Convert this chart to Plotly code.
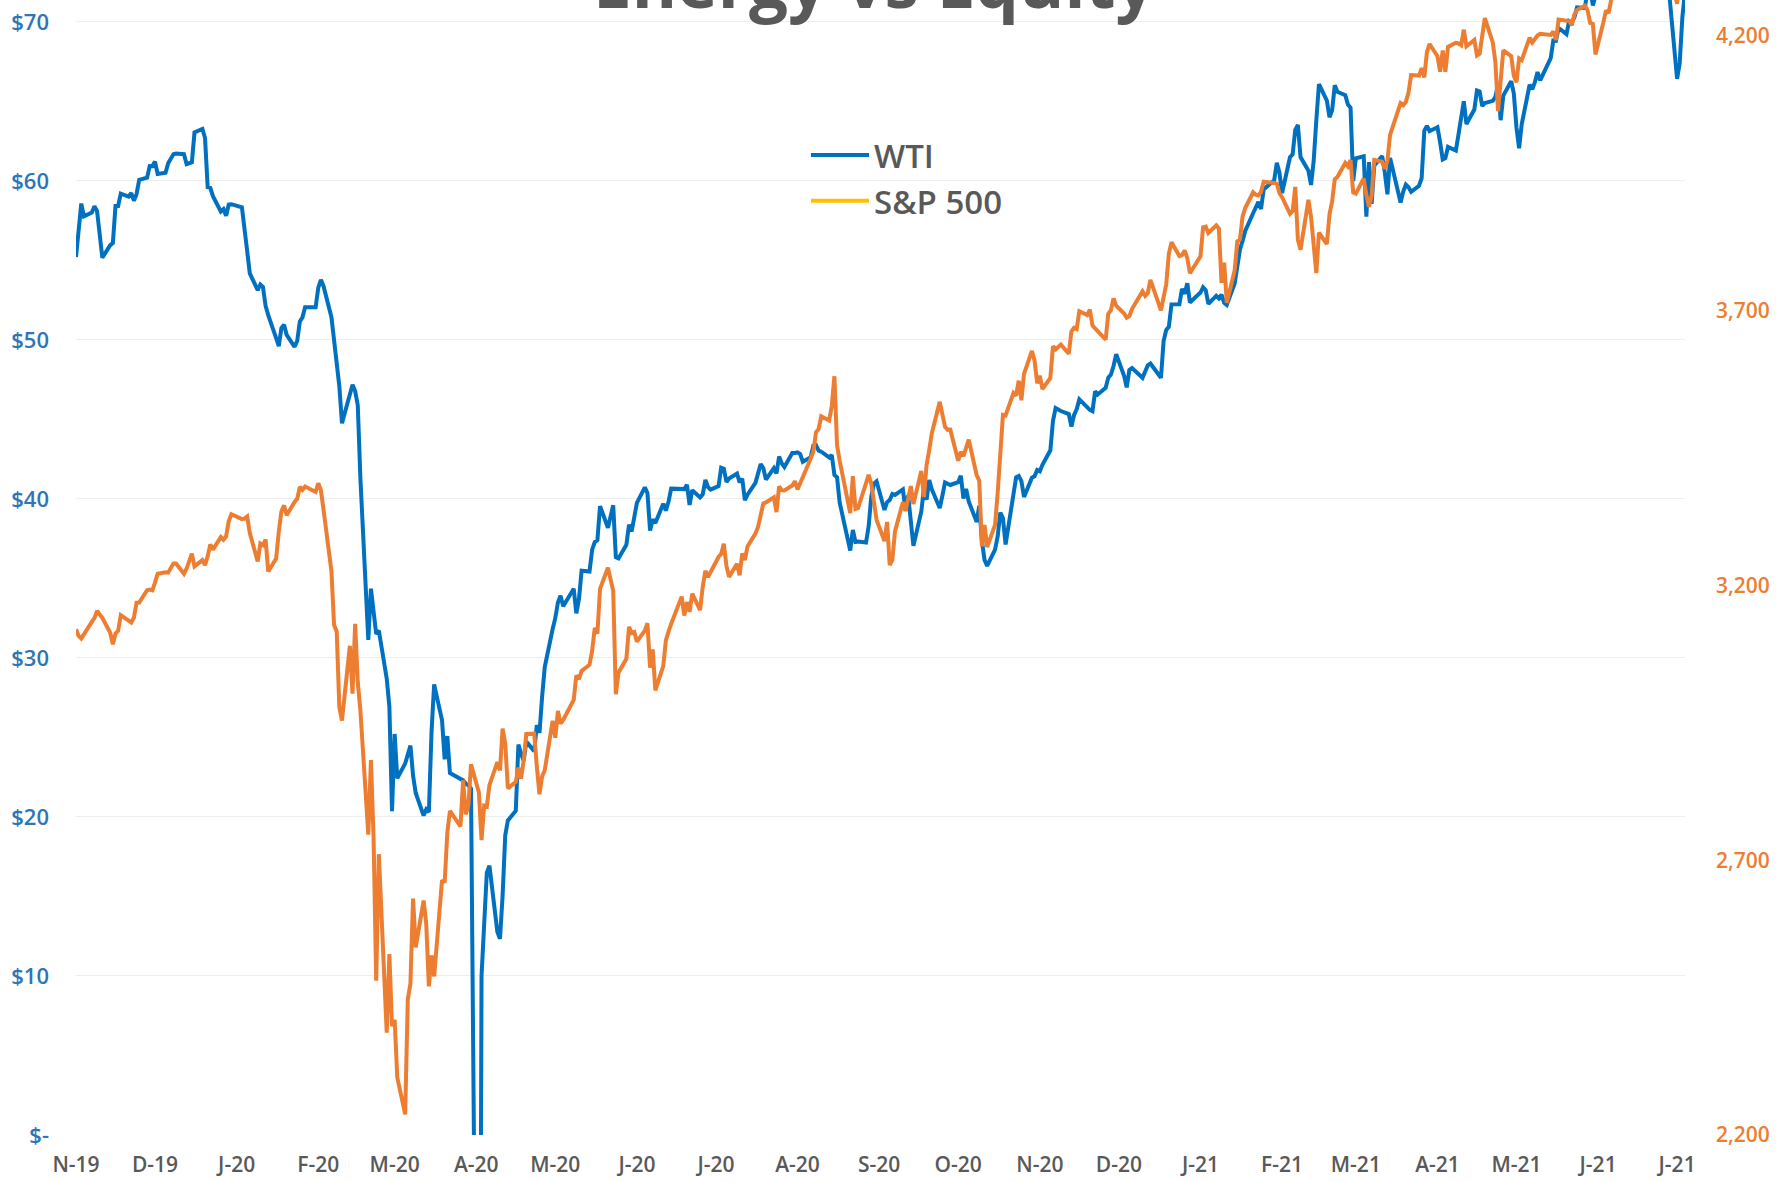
import plotly.graph_objects as go

# ---------------- data ----------------
dates = [
    # Nov 2019
    "2019-11-19","2019-11-20","2019-11-21","2019-11-22","2019-11-25","2019-11-26","2019-11-27","2019-11-29",
    # Dec 2019
    "2019-12-02","2019-12-03","2019-12-04","2019-12-05","2019-12-06","2019-12-09","2019-12-10","2019-12-11",
    "2019-12-12","2019-12-13","2019-12-16","2019-12-17","2019-12-18","2019-12-19","2019-12-20","2019-12-23",
    "2019-12-24","2019-12-26","2019-12-27","2019-12-30","2019-12-31",
    # Jan 2020
    "2020-01-02","2020-01-03","2020-01-06","2020-01-07","2020-01-08","2020-01-09","2020-01-10","2020-01-13",
    "2020-01-14","2020-01-15","2020-01-16","2020-01-17","2020-01-21","2020-01-22","2020-01-23","2020-01-24",
    "2020-01-27","2020-01-28","2020-01-29","2020-01-30","2020-01-31",
    # Feb 2020
    "2020-02-03","2020-02-04","2020-02-05","2020-02-06","2020-02-07","2020-02-10","2020-02-11","2020-02-12",
    "2020-02-13","2020-02-14","2020-02-18","2020-02-19","2020-02-20","2020-02-21","2020-02-24","2020-02-25",
    "2020-02-26","2020-02-27","2020-02-28",
    # Mar 2020
    "2020-03-02","2020-03-03","2020-03-04","2020-03-05","2020-03-06","2020-03-09","2020-03-10","2020-03-11",
    "2020-03-12","2020-03-13","2020-03-16","2020-03-17","2020-03-18","2020-03-19","2020-03-20","2020-03-23",
    "2020-03-24","2020-03-25","2020-03-26","2020-03-27","2020-03-30","2020-03-31",
    # Apr 2020
    "2020-04-01","2020-04-02","2020-04-03","2020-04-06","2020-04-07","2020-04-08","2020-04-09","2020-04-13",
    "2020-04-14","2020-04-15","2020-04-16","2020-04-17","2020-04-20","2020-04-21","2020-04-22","2020-04-23",
    "2020-04-24","2020-04-27","2020-04-28","2020-04-29","2020-04-30",
    # May 2020
    "2020-05-01","2020-05-04","2020-05-05","2020-05-06","2020-05-07","2020-05-08","2020-05-11","2020-05-12",
    "2020-05-13","2020-05-14","2020-05-15","2020-05-18","2020-05-19","2020-05-20","2020-05-21","2020-05-22",
    "2020-05-26","2020-05-27","2020-05-28","2020-05-29",
    # Jun 2020
    "2020-06-01","2020-06-02","2020-06-03","2020-06-04","2020-06-05","2020-06-08","2020-06-09","2020-06-10",
    "2020-06-11","2020-06-12","2020-06-15","2020-06-16","2020-06-17","2020-06-18","2020-06-19","2020-06-22",
    "2020-06-23","2020-06-24","2020-06-25","2020-06-26","2020-06-29","2020-06-30",
    # Jul 2020
    "2020-07-01","2020-07-02","2020-07-06","2020-07-07","2020-07-08","2020-07-09","2020-07-10","2020-07-13",
    "2020-07-14","2020-07-15","2020-07-16","2020-07-17","2020-07-20","2020-07-21","2020-07-22","2020-07-23",
    "2020-07-24","2020-07-27","2020-07-28","2020-07-29","2020-07-30","2020-07-31",
    # Aug 2020
    "2020-08-03","2020-08-04","2020-08-05","2020-08-06","2020-08-07","2020-08-10","2020-08-11","2020-08-12",
    "2020-08-13","2020-08-14","2020-08-17","2020-08-18","2020-08-19","2020-08-20","2020-08-21","2020-08-24",
    "2020-08-25","2020-08-26","2020-08-27","2020-08-28","2020-08-31",
    # Sep 2020
    "2020-09-01","2020-09-02","2020-09-03","2020-09-04","2020-09-08","2020-09-09","2020-09-10","2020-09-11",
    "2020-09-14","2020-09-15","2020-09-16","2020-09-17","2020-09-18","2020-09-21","2020-09-22","2020-09-23",
    "2020-09-24","2020-09-25","2020-09-28","2020-09-29","2020-09-30",
    # Oct 2020
    "2020-10-01","2020-10-02","2020-10-05","2020-10-06","2020-10-07","2020-10-08","2020-10-09","2020-10-12",
    "2020-10-13","2020-10-14","2020-10-15","2020-10-16","2020-10-19","2020-10-20","2020-10-21","2020-10-22",
    "2020-10-23","2020-10-26","2020-10-27","2020-10-28","2020-10-29","2020-10-30",
    # Nov 2020
    "2020-11-02","2020-11-03","2020-11-04","2020-11-05","2020-11-06","2020-11-09","2020-11-10","2020-11-11",
    "2020-11-12","2020-11-13","2020-11-16","2020-11-17","2020-11-18","2020-11-19","2020-11-20","2020-11-23",
    "2020-11-24","2020-11-25","2020-11-27","2020-11-30",
    # Dec 2020
    "2020-12-01","2020-12-02","2020-12-03","2020-12-04","2020-12-07","2020-12-08","2020-12-09","2020-12-10",
    "2020-12-11","2020-12-14","2020-12-15","2020-12-16","2020-12-17","2020-12-18","2020-12-21","2020-12-22",
    "2020-12-23","2020-12-24","2020-12-28","2020-12-29","2020-12-30","2020-12-31",
    # Jan 2021
    "2021-01-04","2021-01-05","2021-01-06","2021-01-07","2021-01-08","2021-01-11","2021-01-12","2021-01-13",
    "2021-01-14","2021-01-15","2021-01-19","2021-01-20","2021-01-21","2021-01-22","2021-01-25","2021-01-26",
    "2021-01-27","2021-01-28","2021-01-29",
    # Feb 2021
    "2021-02-01","2021-02-02","2021-02-03","2021-02-04","2021-02-05","2021-02-08","2021-02-09","2021-02-10",
    "2021-02-11","2021-02-12","2021-02-16","2021-02-17","2021-02-18","2021-02-19","2021-02-22","2021-02-23",
    "2021-02-24","2021-02-25","2021-02-26",
    # Mar 2021
    "2021-03-01","2021-03-02","2021-03-03","2021-03-04","2021-03-05","2021-03-08","2021-03-09","2021-03-10",
    "2021-03-11","2021-03-12","2021-03-15","2021-03-16","2021-03-17","2021-03-18","2021-03-19","2021-03-22",
    "2021-03-23","2021-03-24","2021-03-25","2021-03-26","2021-03-29","2021-03-30","2021-03-31",
    # Apr 2021
    "2021-04-01","2021-04-05","2021-04-06","2021-04-07","2021-04-08","2021-04-09","2021-04-12","2021-04-13",
    "2021-04-14","2021-04-15","2021-04-16","2021-04-19","2021-04-20","2021-04-21","2021-04-22","2021-04-23",
    "2021-04-26","2021-04-27","2021-04-28","2021-04-29","2021-04-30",
    # May 2021
    "2021-05-03","2021-05-04","2021-05-05","2021-05-06","2021-05-07","2021-05-10","2021-05-11","2021-05-12",
    "2021-05-13","2021-05-14","2021-05-17","2021-05-18","2021-05-19","2021-05-20","2021-05-21","2021-05-24",
    "2021-05-25","2021-05-26","2021-05-27","2021-05-28",
    # Jun 2021
    "2021-06-01","2021-06-02","2021-06-03","2021-06-04","2021-06-07","2021-06-08","2021-06-09","2021-06-10",
    "2021-06-11","2021-06-14","2021-06-15","2021-06-16","2021-06-17","2021-06-18","2021-06-21","2021-06-22",
    "2021-06-23","2021-06-24","2021-06-25","2021-06-28","2021-06-29","2021-06-30",
    # Jul 2021
    "2021-07-01","2021-07-02","2021-07-06","2021-07-07","2021-07-08","2021-07-09","2021-07-12","2021-07-13",
    "2021-07-14","2021-07-15","2021-07-16","2021-07-19","2021-07-20","2021-07-21","2021-07-22",
]

wti = [
    # Nov 2019
    55.21,57.11,58.58,57.77,58.01,58.41,58.11,55.17,
    # Dec 2019
    55.96,56.10,58.43,58.43,59.20,59.02,59.24,58.76,59.18,60.07,60.21,60.94,60.93,61.22,60.44,60.52,
    61.11,61.68,61.72,61.68,61.06,
    # Jan 2020
    61.18,63.05,63.27,62.70,59.61,59.56,59.04,58.08,58.23,57.81,58.52,58.54,58.34,56.74,55.59,54.19,
    53.14,53.48,53.33,52.14,51.56,
    # Feb 2020
    50.11,49.61,50.75,50.95,50.32,49.57,49.94,51.17,51.42,52.05,52.05,53.29,53.78,53.38,51.43,49.90,
    48.73,47.09,44.76,
    # Mar 2020
    46.75,47.18,46.78,45.90,41.28,31.13,34.36,32.98,31.50,31.73,28.70,26.95,20.37,25.22,22.43,23.36,
    24.01,24.49,22.60,21.51,20.09,20.48,
    # Apr 2020
    20.31,25.32,28.34,26.08,23.63,25.09,22.76,22.40,22.30,22.10,22.00,21.80,-37.63,10.01,13.78,16.50,
    16.94,12.78,12.34,15.06,18.84,
    # May 2020
    19.78,20.39,24.56,23.99,23.55,24.74,24.14,25.78,25.29,27.56,29.43,31.82,32.50,33.49,33.92,33.25,
    34.35,32.81,33.71,35.49,
    # Jun 2020
    35.44,36.81,37.29,37.41,39.55,38.19,38.94,39.60,36.34,36.26,37.12,38.38,37.96,38.84,39.75,40.73,
    40.37,38.01,38.72,38.49,39.70,39.27,
    # Jul 2020
    39.82,40.65,40.63,40.62,40.90,39.62,40.55,40.10,40.29,41.20,40.75,40.59,40.81,41.96,41.90,41.07,
    41.29,41.60,41.04,41.27,39.92,40.27,
    # Aug 2020
    41.01,41.70,42.19,41.95,41.22,41.94,41.61,42.67,42.24,42.01,42.89,42.89,42.93,42.82,42.34,42.62,
    43.35,43.39,43.04,42.97,42.61,
    # Sep 2020
    42.76,41.51,41.37,39.77,36.76,38.05,37.30,37.33,37.26,38.28,40.16,40.97,41.11,39.31,39.80,39.93,
    40.31,40.25,40.60,39.29,40.22,
    # Oct 2020
    38.72,37.05,39.22,40.67,39.95,41.19,40.60,39.43,40.20,41.04,40.96,40.88,41.06,41.46,40.03,40.64,
    39.85,38.56,39.57,37.39,36.17,35.79,
    # Nov 2020
    36.81,37.66,39.15,38.79,37.14,40.29,41.36,41.45,41.12,40.13,41.34,41.43,41.82,41.74,42.15,43.06,
    44.91,45.71,45.53,45.34,
    # Dec 2020
    44.55,45.28,45.64,46.26,45.76,45.60,45.52,46.78,46.57,46.99,47.62,47.82,48.36,49.10,47.74,47.02,
    48.12,48.23,47.62,48.00,48.40,48.52,
    # Jan 2021
    47.62,49.93,50.63,50.83,52.24,52.25,53.21,52.91,53.57,52.36,52.98,53.31,53.13,52.27,52.77,52.61,
    52.85,52.34,52.20,
    # Feb 2021
    53.55,54.76,55.69,56.23,56.85,57.97,58.36,58.68,58.24,59.47,60.05,61.14,60.52,59.24,61.49,61.67,
    63.22,63.53,61.50,
    # Mar 2021
    60.64,59.75,61.28,63.83,66.09,65.05,64.01,64.44,66.02,65.61,65.39,64.80,64.60,60.00,61.42,61.55,
    57.76,61.18,58.56,60.97,61.56,60.55,59.16,
    # Apr 2021
    61.45,58.65,59.33,59.77,59.60,59.32,59.70,60.18,63.15,63.46,63.13,63.38,62.44,61.35,61.43,62.14,
    61.91,62.94,63.86,65.01,63.58,
    # May 2021
    64.49,65.69,65.63,64.71,64.90,65.04,65.28,66.08,63.82,65.37,66.27,65.49,63.36,62.05,63.58,66.05,
    65.76,66.21,66.85,66.32,
    # Jun 2021
    67.72,68.83,68.81,69.62,69.23,70.05,69.96,70.29,70.91,70.88,72.12,72.15,71.04,71.64,73.66,73.06,
    73.08,73.30,74.05,72.91,72.98,73.47,
    # Jul 2021
    75.23,75.16,73.37,72.20,72.94,74.56,74.10,75.25,73.13,71.65,71.81,66.42,67.42,70.30,71.91,
]

spx = [
    # Nov 2019
    3120.18,3108.46,3103.54,3110.29,3133.64,3140.52,3153.63,3140.98,
    # Dec 2019
    3113.87,3093.20,3112.76,3117.43,3145.91,3135.96,3132.52,3141.63,3168.57,3168.80,3191.45,3192.52,
    3191.14,3205.37,3221.22,3224.01,3223.38,3239.91,3240.02,3221.29,3230.78,
    # Jan 2020
    3257.85,3234.85,3246.28,3237.18,3253.05,3274.70,3265.35,3288.13,3283.15,3289.29,3316.81,3329.62,
    3320.79,3321.75,3325.54,3295.47,3243.63,3276.24,3273.40,3283.66,3225.52,
    # Feb 2020
    3248.92,3297.59,3334.69,3345.78,3327.71,3352.09,3357.75,3379.45,3373.94,3380.16,3370.29,3386.15,
    3373.23,3337.75,3225.89,3128.21,3116.39,2978.76,2954.22,
    # Mar 2020
    3090.23,3003.37,3130.12,3023.94,2972.37,2746.56,2882.23,2741.38,2480.64,2711.02,2386.13,2529.19,
    2398.10,2409.39,2304.92,2237.40,2447.33,2475.56,2630.07,2541.47,2626.65,2584.59,
    # Apr 2020
    2470.50,2526.90,2488.65,2663.68,2659.41,2749.98,2789.82,2761.63,2846.06,2783.36,2799.55,2874.56,
    2823.16,2736.56,2799.31,2797.80,2836.74,2878.48,2863.39,2939.51,2912.43,
    # May 2020
    2830.71,2842.74,2868.44,2848.42,2881.19,2929.80,2930.32,2870.12,2820.00,2852.50,2863.70,2953.91,
    2922.94,2971.61,2948.51,2955.45,2991.77,3036.13,3029.73,3044.31,
    # Jun 2020
    3055.73,3080.82,3122.87,3112.35,3193.93,3232.39,3207.18,3190.14,3002.10,3041.31,3066.59,3124.74,
    3113.49,3115.34,3097.74,3117.86,3131.29,3050.33,3083.76,3009.05,3053.24,3100.29,
    # Jul 2020
    3115.86,3130.01,3179.72,3145.32,3169.94,3152.05,3185.04,3155.22,3197.52,3226.56,3215.57,3224.73,
    3251.84,3257.30,3276.02,3235.66,3215.63,3239.41,3218.44,3258.44,3246.22,3271.12,
    # Aug 2020
    3294.61,3306.51,3327.77,3349.16,3351.28,3360.47,3333.69,3380.35,3373.43,3372.85,3381.99,3389.78,
    3374.85,3385.51,3397.16,3431.28,3443.62,3478.73,3484.55,3508.01,3500.31,
    # Sep 2020
    3526.65,3580.84,3455.06,3426.96,3331.84,3398.96,3339.19,3340.97,3383.54,3401.20,3385.49,3357.01,
    3319.47,3281.06,3315.57,3236.92,3246.59,3298.46,3351.60,3335.47,3363.00,
    # Oct 2020
    3380.80,3348.42,3408.60,3360.97,3419.44,3446.83,3477.14,3534.22,3511.93,3488.67,3483.34,3483.81,
    3426.92,3443.12,3435.56,3453.49,3465.39,3400.97,3390.68,3271.03,3310.11,3269.96,
    # Nov 2020
    3310.24,3369.16,3443.44,3510.45,3509.44,3550.50,3545.53,3572.66,3537.01,3585.15,3626.91,3609.53,
    3567.79,3581.87,3557.54,3577.59,3635.41,3629.65,3638.35,3621.63,
    # Dec 2020
    3662.45,3669.01,3666.72,3699.12,3691.96,3702.25,3672.82,3668.10,3663.46,3647.49,3694.62,3701.17,
    3722.48,3709.41,3694.92,3687.26,3690.01,3703.06,3735.36,3727.04,3732.04,3756.07,
    # Jan 2021
    3700.65,3726.86,3748.14,3803.79,3824.68,3799.61,3801.19,3809.84,3795.54,3768.25,3798.91,3851.85,
    3853.07,3841.47,3855.36,3849.62,3750.77,3787.38,3714.24,
    # Feb 2021
    3773.86,3826.31,3830.17,3871.74,3886.83,3915.59,3911.23,3909.88,3916.38,3934.83,3932.59,3931.33,
    3913.97,3906.71,3876.50,3881.37,3925.43,3829.34,3811.15,
    # Mar 2021
    3901.82,3870.29,3819.72,3768.47,3841.94,3821.35,3875.44,3898.81,3939.34,3943.34,3968.94,3962.71,
    3974.12,3915.46,3913.10,3940.59,3910.52,3889.14,3909.52,3974.54,3971.09,3958.55,3972.89,
    # Apr 2021
    4019.87,4077.91,4073.94,4079.95,4097.17,4128.80,4127.99,4141.59,4124.66,4170.42,4185.47,4163.26,
    4134.94,4173.42,4134.98,4180.17,4187.62,4186.72,4183.18,4211.47,4181.17,
    # May 2021
    4192.66,4164.66,4167.59,4201.62,4232.60,4188.43,4152.10,4063.04,4112.50,4173.85,4163.29,4127.83,
    4115.68,4159.12,4155.86,4197.05,4188.13,4195.99,4200.88,4204.11,
    # Jun 2021
    4202.04,4208.12,4192.85,4229.89,4226.52,4227.26,4219.55,4239.18,4247.44,4255.15,4246.59,4223.70,
    4221.86,4166.45,4224.79,4246.44,4241.84,4266.49,4280.70,4290.61,4291.80,4297.50,
    # Jul 2021
    4319.94,4352.34,4343.54,4358.13,4320.82,4369.55,4384.63,4369.21,4374.30,4360.03,4327.16,4258.49,
    4323.06,4358.69,4367.48,
]

assert len(dates) == len(wti) == len(spx), (len(dates), len(wti), len(spx))

x_tickvals = [
    "2019-11-19","2019-12-19","2020-01-19","2020-02-19","2020-03-19","2020-04-19","2020-05-19",
    "2020-06-19","2020-07-19","2020-08-19","2020-09-19","2020-10-19","2020-11-19","2020-12-19",
    "2021-01-19","2021-02-19","2021-03-19","2021-04-19","2021-05-19","2021-06-19","2021-07-19",
]
x_ticktext = ["N-19","D-19","J-20","F-20","M-20","A-20","M-20","J-20","J-20","A-20","S-20",
              "O-20","N-20","D-20","J-21","F-21","M-21","A-21","M-21","J-21","J-21"]

y1_tickvals = [0, 10, 20, 30, 40, 50, 60, 70]
y1_ticktext = ["$-", "$10", "$20", "$30", "$40", "$50", "$60", "$70"]
y2_tickvals = [2200, 2700, 3200, 3700, 4200]
y2_ticktext = ["2,200", "2,700", "3,200", "3,700", "4,200"]

series_names = ["WTI", "S&P 500"]
title_text = "Energy vs Equity"

# ---------------- styles ----------------
BLUE = "#0070C0"
ORANGE = "#ED7D31"
GOLD = "#FFC000"
GRAY = "#595959"
FONT = "Open Sans"

fig = go.Figure()

fig.add_trace(go.Scatter(
    x=dates, y=wti, name=series_names[0], mode="lines",
    line=dict(color=BLUE, width=4), yaxis="y", showlegend=True,
))
fig.add_trace(go.Scatter(
    x=dates, y=spx, name=series_names[1], mode="lines",
    line=dict(color=ORANGE, width=4), yaxis="y2", showlegend=False,
))
# legend entry for S&P 500 (shown in gold in the original legend)
fig.add_trace(go.Scatter(
    x=[None], y=[None], name=series_names[1], mode="lines",
    line=dict(color=GOLD, width=4), yaxis="y2", showlegend=True,
))

fig.update_layout(
    width=1778, height=1181,
    margin=dict(l=76, r=93, t=0, b=46),
    paper_bgcolor="white", plot_bgcolor="white",
    font=dict(family=FONT, color=GRAY),
    showlegend=True,
    legend=dict(
        x=(806 - 76) / 1609, xanchor="left",
        y=1 - 127 / 1135, yanchor="top",
        bgcolor="rgba(255,255,255,0)",
        font=dict(family=FONT, size=33, color=GRAY, weight=600),
        itemwidth=58,
        tracegroupgap=0,
    ),
    xaxis=dict(
        type="date",
        range=["2019-11-19", "2021-07-22"],
        tickmode="array", tickvals=x_tickvals, ticktext=x_ticktext,
        showgrid=False, zeroline=False, showline=False, ticks="",
        tickfont=dict(family=FONT, size=21, color=GRAY, weight=600),
        ticklabelstandoff=15,
    ),
    yaxis=dict(
        range=[0, 71.38],
        tickmode="array", tickvals=y1_tickvals, ticktext=y1_ticktext,
        showgrid=True, gridcolor="#EEEEEE", gridwidth=1.3,
        zeroline=False, showline=False, ticks="",
        tickfont=dict(family=FONT, size=22, color="#2E75B6", weight=600),
        ticklabelstandoff=26,
    ),
    yaxis2=dict(
        range=[2200, 4265.5], overlaying="y", side="right",
        tickmode="array", tickvals=y2_tickvals, ticktext=y2_ticktext,
        showgrid=False, zeroline=False, showline=False, ticks="",
        tickfont=dict(family=FONT, size=21, color=ORANGE, weight=600),
        ticklabelstandoff=30,
    ),
    annotations=[dict(
        text="<b>" + title_text + "</b>",
        xref="paper", yref="paper", x=(874 - 76) / 1609, y=1,
        xanchor="center", yanchor="middle", yshift=19,
        showarrow=False,
        font=dict(family=FONT, size=69, color=GRAY),
    )],
)

fig.write_html(
    "out.html",
    config={"displayModeBar": False},
    post_script="document.body.style.margin='0';",
)
